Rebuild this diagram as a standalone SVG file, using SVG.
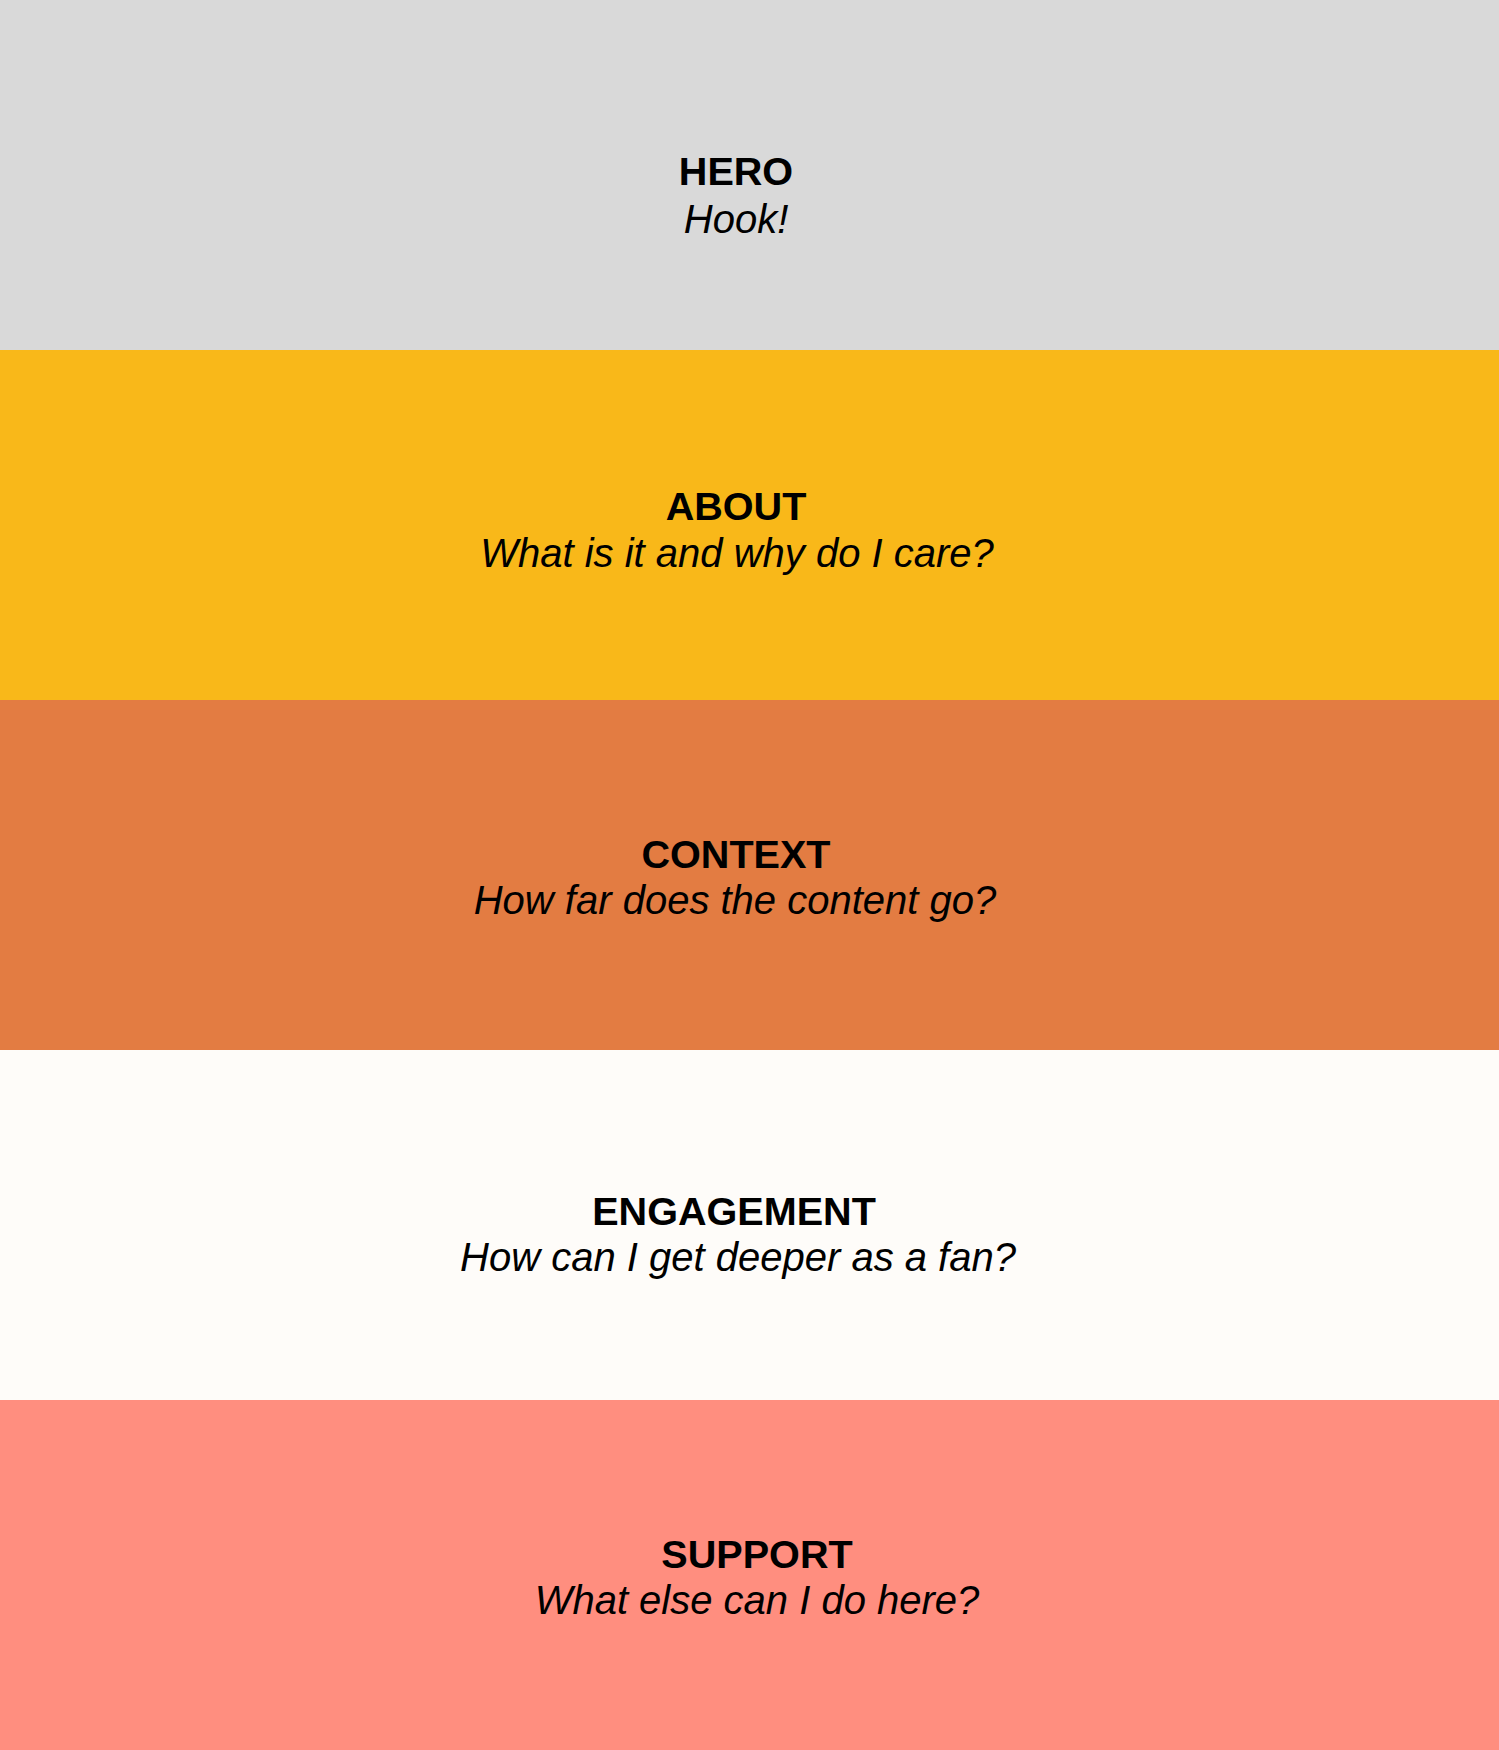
<svg xmlns="http://www.w3.org/2000/svg" width="1499" height="1750" viewBox="0 0 1499 1750">
  <style>
    .t { font-family: "Liberation Sans", Arial, Helvetica, sans-serif; fill: #000; text-anchor: middle; }
    .h { font-weight: bold; font-size: 39.6px; }
    .s { font-style: italic; font-size: 40px; }
  </style>
  <g id="hero">
    <rect x="0" y="0" width="1499" height="350" fill="#D9D9D9"/>
    <text class="t h" x="736" y="185">HERO</text>
    <text class="t s" x="736" y="233">Hook!</text>
  </g>
  <g id="about">
    <rect x="0" y="350" width="1499" height="350" fill="#F9B819"/>
    <text class="t h" x="736" y="520">ABOUT</text>
    <text class="t s" x="737" y="567">What is it and why do I care?</text>
  </g>
  <g id="context">
    <rect x="0" y="700" width="1499" height="350" fill="#E37C42"/>
    <text class="t h" x="736" y="868">CONTEXT</text>
    <text class="t s" x="735" y="914">How far does the content go?</text>
  </g>
  <g id="engagement">
    <rect x="0" y="1050" width="1499" height="350" fill="#FEFCF9"/>
    <text class="t h" x="734" y="1225">ENGAGEMENT</text>
    <text class="t s" x="738" y="1271">How can I get deeper as a fan?</text>
  </g>
  <g id="support">
    <rect x="0" y="1400" width="1499" height="350" fill="#FF8E7F"/>
    <text class="t h" x="757" y="1568">SUPPORT</text>
    <text class="t s" x="757" y="1614">What else can I do here?</text>
  </g>
  <g id="connectors"/>
</svg>
